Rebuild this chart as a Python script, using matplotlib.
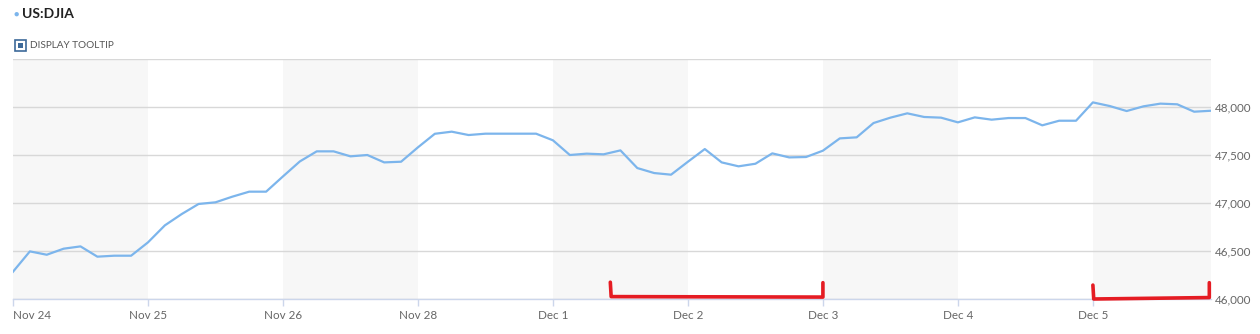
import matplotlib
matplotlib.use("Agg")
import matplotlib.pyplot as plt
from matplotlib.patches import Rectangle

# Intraday DJIA, 8 points per trading day
day_labels = ["Nov 24", "Nov 25", "Nov 26", "Nov 28", "Dec 1",
              "Dec 2", "Dec 3", "Dec 4", "Dec 5"]
points_per_day = 8

djia = [
    46284, 46496, 46461, 46524, 46548, 46441, 46451, 46451,   # Nov 24
    46590, 46767, 46885, 46990, 47007, 47066, 47118, 47118,   # Nov 25
    47277, 47433, 47538, 47538, 47486, 47500, 47423, 47430,   # Nov 26
    47580, 47721, 47743, 47708, 47722, 47722, 47722, 47722,   # Nov 28
    47653, 47500, 47514, 47507, 47548, 47364, 47312, 47295,   # Dec 1
    47430, 47562, 47423, 47382, 47409, 47517, 47475, 47479,   # Dec 2
    47545, 47673, 47684, 47833, 47889, 47934, 47896, 47889,   # Dec 3
    47840, 47892, 47868, 47885, 47885, 47809, 47857, 47857,   # Dec 4
    48048, 48010, 47958, 48007, 48035, 48028, 47951, 47961,   # Dec 5
]

y_ticks = [46000, 46500, 47000, 47500, 48000]

# hand drawn red brackets on top of the chart (x in point index, y in index value)
bracket1_x = [35.4, 35.45, 48.0, 48.0]
bracket1_y = [46175, 46025, 46020, 46170]
bracket2_x = [64.0, 64.05, 70.9, 70.9]
bracket2_y = [46145, 46000, 46015, 46170]

LINE = "#7cb5ec"
TXT = "#666666"

plt.rcParams["font.family"] = ["Lato", "DejaVu Sans"]

fig = plt.figure(figsize=(12.6, 3.34), dpi=100)
W, H = 1260, 334
ax = fig.add_axes([13 / W, 35 / H, (1211 - 13) / W, (299 - 59) / H])

n = len(djia)
x = list(range(n))

# alternating day bands
for d in range(0, len(day_labels), 2):
    x0 = d * points_per_day
    x1 = min((d + 1) * points_per_day, n - 1)
    ax.axvspan(x0, x1, color="#f7f7f7", zorder=0, lw=0)

ax.plot(x, djia, color=LINE, lw=1.6, zorder=3, solid_joinstyle="round")

ax.set_xlim(0, n - 1)
ax.set_ylim(46000, 48500)

ax.set_yticks(y_ticks + [48500])
ax.set_yticklabels([f"{v:,}" for v in y_ticks] + [""])
ax.yaxis.tick_right()
ax.tick_params(axis="y", length=0, pad=3, labelsize=8.4, labelcolor=TXT)
ax.grid(axis="y", color="#d8d8d8", lw=1.0, zorder=1)

ticks = [d * points_per_day for d in range(len(day_labels))]
ax.set_xticks(ticks)
ax.set_xticklabels(day_labels)
ax.tick_params(axis="x", length=5, width=1, color="#ccd6eb", pad=3,
               labelsize=8.4, labelcolor=TXT)
ax.get_xticklabels()[0].set_ha("left")

for s in ["top", "left", "right"]:
    ax.spines[s].set_visible(False)
ax.spines["bottom"].set_color("#ccd6eb")
ax.spines["bottom"].set_linewidth(1)

# red annotation brackets
for bx, by in [(bracket1_x, bracket1_y), (bracket2_x, bracket2_y)]:
    ax.plot(bx, by, color="#e51c23", lw=2.6, zorder=5, clip_on=False,
            solid_capstyle="round", solid_joinstyle="round")

# header
fig.text(16 / W, 1 - 14.5 / H, "\u25cf", color=LINE, fontsize=6.5, va="center", ha="center")
fig.text(22 / W, 1 - 14.5 / H, "US:DJIA", color="#222222", fontsize=10,
         fontweight="bold", va="center", ha="left")

fig.patches.append(Rectangle((14.5 / W, 1 - 50.5 / H), 11 / W, 11 / H,
                             transform=fig.transFigure, fill=False,
                             edgecolor="#3d6a9a", lw=1.2))
fig.patches.append(Rectangle((17.5 / W, 1 - 47.5 / H), 5 / W, 5 / H,
                             transform=fig.transFigure, facecolor="#3d6a9a",
                             edgecolor="none"))
fig.text(30 / W, 1 - 45 / H, "DISPLAY TOOLTIP", color="#555555", fontsize=7.2,
         va="center", ha="left")

fig.savefig("out.png", dpi=100)
